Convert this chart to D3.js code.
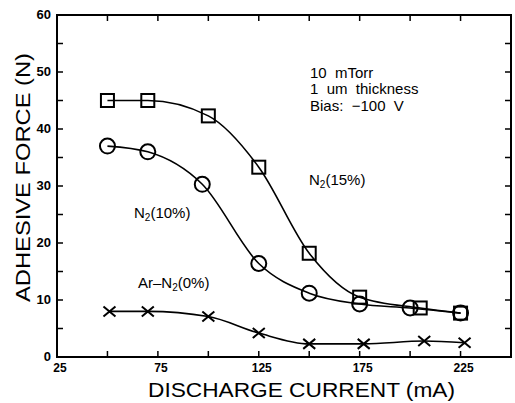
<!DOCTYPE html>
<html>
<head>
<meta charset="utf-8">
<script src="https://d3js.org/d3.v7.min.js"></script>
<style>
  body { margin: 0; background: #fff; }
  svg { display: block; }
  text { font-family: "Liberation Sans", Arial, sans-serif; fill: #000; }
</style>
</head>
<body>
<svg id="chart" width="515" height="403"></svg>
<script>
// data
const n15x = [50, 70, 100, 125, 150, 175, 205, 225];
const n15y = [45, 45, 42.3, 33.3, 18.2, 10.5, 8.6, 7.7];

const n10x = [50, 70, 97, 125, 150, 175, 200, 225];
const n10y = [37, 36, 30.3, 16.4, 11.2, 9.3, 8.6, 7.7];

const arx = [51, 70, 100, 125, 150, 177, 207, 227];
const ary = [8, 8, 7.1, 4.2, 2.3, 2.3, 2.8, 2.5];

const xLabels = [25, 75, 125, 175, 225];
const yLabels = [0, 10, 20, 30, 40, 50, 60];

const svg = d3.select("#chart");
const mLeft = 57, mRight = 511, mTop = 15, mBottom = 357;

const x = d3.scaleLinear().domain([25, 250]).range([mLeft, mRight]);
const y = d3.scaleLinear().domain([0, 60]).range([mBottom, mTop]);

// frame
svg.append("rect")
  .attr("x", mLeft).attr("y", mTop)
  .attr("width", mRight - mLeft).attr("height", mBottom - mTop)
  .attr("fill", "none").attr("stroke", "#000").attr("stroke-width", 2);

// inward ticks
const g = svg.append("g").attr("stroke", "#000").attr("stroke-width", 1.5);
d3.range(25, 251, 25).forEach(v => {
  g.append("line").attr("x1", x(v)).attr("x2", x(v)).attr("y1", mTop).attr("y2", mTop + 6);
  g.append("line").attr("x1", x(v)).attr("x2", x(v)).attr("y1", mBottom).attr("y2", mBottom - 6);
});
d3.range(0, 61, 5).forEach(v => {
  g.append("line").attr("x1", mLeft).attr("x2", mLeft + 6).attr("y1", y(v)).attr("y2", y(v));
  g.append("line").attr("x1", mRight).attr("x2", mRight - 6).attr("y1", y(v)).attr("y2", y(v));
});

// tick labels
svg.append("g").selectAll("text").data(xLabels).enter().append("text")
  .attr("x", d => x(d) + 3).attr("y", 372)
  .attr("text-anchor", "middle")
  .attr("font-size", 12).attr("font-weight", "bold")
  .text(d => d);

svg.append("g").selectAll("text").data(yLabels).enter().append("text")
  .attr("x", 51).attr("y", d => y(d) + 4)
  .attr("text-anchor", "end")
  .attr("font-size", 13).attr("font-weight", "bold")
  .text(d => d);

// axis titles
svg.append("text")
  .attr("x", 148).attr("y", 397)
  .attr("font-size", 21)
  .attr("textLength", 307).attr("lengthAdjust", "spacingAndGlyphs")
  .text("DISCHARGE CURRENT (mA)");

svg.append("text")
  .attr("transform", "translate(30,302) rotate(-90)")
  .attr("font-size", 21)
  .attr("textLength", 249).attr("lengthAdjust", "spacingAndGlyphs")
  .text("ADHESIVE FORCE (N)");

// curves
const line = d3.line().x(d => x(d[0])).y(d => y(d[1])).curve(d3.curveMonotoneX);
const series = [
  { xs: n15x, ys: n15y, mark: "square" },
  { xs: n10x, ys: n10y, mark: "circle" },
  { xs: arx, ys: ary, mark: "cross" }
];

series.forEach(s => {
  const pts = s.xs.map((v, i) => [v, s.ys[i]]);
  svg.append("path").attr("d", line(pts))
    .attr("fill", "none").attr("stroke", "#000").attr("stroke-width", 1.6);

  const m = svg.append("g").selectAll("g").data(pts).enter().append("g")
    .attr("transform", d => `translate(${x(d[0])},${y(d[1])})`);
  if (s.mark === "square") {
    m.append("rect").attr("x", -6.5).attr("y", -6.5).attr("width", 13).attr("height", 13)
      .attr("fill", "none").attr("stroke", "#000").attr("stroke-width", 2);
  } else if (s.mark === "circle") {
    m.append("circle").attr("r", 7.5)
      .attr("fill", "none").attr("stroke", "#000").attr("stroke-width", 2);
  } else {
    m.append("path").attr("d", "M-6,-5L6,5M-6,5L6,-5")
      .attr("fill", "none").attr("stroke", "#000").attr("stroke-width", 2);
  }
});

// annotations
[["10  mTorr", 78], ["1  um  thickness", 94], ["Bias:  \u2212100  V", 111]].forEach(d => {
  svg.append("text").attr("x", 310).attr("y", d[1]).attr("font-size", 15)
    .style("white-space", "pre").text(d[0]);
});

function seriesLabel(px, py, pre, post) {
  const t = svg.append("text").attr("x", px).attr("y", py).attr("font-size", 15);
  t.append("tspan").text(pre + "N");
  t.append("tspan").attr("font-size", 10).attr("dy", 3).text("2");
  t.append("tspan").attr("dy", -3).text(post);
}
seriesLabel(309, 185, "", "(15%)");
seriesLabel(134, 218, "", "(10%)");
seriesLabel(138, 288, "Ar\u2013", "(0%)");
</script>
</body>
</html>
